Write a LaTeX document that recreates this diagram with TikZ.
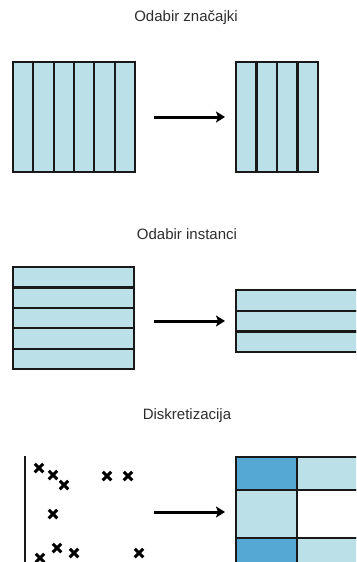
\documentclass[tikz,border=0pt]{standalone}
\usepackage{fontspec}
\setmainfont{Liberation Sans}
\usetikzlibrary{arrows.meta}
\usetikzlibrary{shapes.misc}
\definecolor{cellblue}{RGB}{188,224,232}
\definecolor{darkcell}{RGB}{86,168,212}
\definecolor{titlegray}{RGB}{45,45,45}
\definecolor{edgegray}{RGB}{25,25,25}
\tikzset{
  cellbox/.style={draw=edgegray,line width=2.2pt,fill=#1},
  cellbox/.default=cellblue,
  steptitle/.style={text=titlegray,font=\fontsize{15}{18}\selectfont,inner sep=0pt},
  maparrow/.style={line width=3pt,-{Stealth[length=9pt,width=11pt,inset=2pt]}},
  xmark/.style={cross out,draw=black,line width=3pt,minimum size=5.5pt,inner sep=0pt}
}
% column strips: x, y top, count, width, height
\newcommand{\drawcolumns}[5]{
  \begin{scope}[shift={(#1,#2)}]
  \foreach \i in {1,...,#3} {
    \draw[cellbox] ({(\i-1)*#4},0) rectangle ({\i*#4},#5);
  }
  \end{scope}
}
% row strips: x, y top, count, width, height
\newcommand{\drawrows}[5]{
  \begin{scope}[shift={(#1,#2)}]
  \foreach \i in {1,...,#3} {
    \draw[cellbox] (0,{(\i-1)*#5}) rectangle (#4,{\i*#5});
  }
  \end{scope}
}

\begin{document}
\begin{tikzpicture}[x=1pt,y=-1pt]
  \useasboundingbox (0,0) rectangle (356,562);
  \clip (0,0) rectangle (356,562);

  % feature selection
  \node[steptitle] (t1) at (186,18) {Odabir značajki};
  \drawcolumns{13}{62}{6}{20.33}{110}
  \drawcolumns{236}{62}{4}{20.5}{110}
  \coordinate (a1s) at (154,117);
  \coordinate (a1e) at (225,117);
  \draw[maparrow] (a1s) -- (a1e);

  % instance selection
  \node[steptitle] (t2) at (187,234) {Odabir instanci};
  \drawrows{13}{267}{5}{121}{20.4}
  \drawrows{236}{290}{3}{140}{20.7}
  \coordinate (a2s) at (154,321);
  \coordinate (a2e) at (225,321);
  \draw[maparrow] (a2s) -- (a2e);

  % discretization
  \node[steptitle] (t3) at (187,416) {Diskretizacija};
  \coordinate (axtop) at (25,456);
  \coordinate (axbot) at (25,570);
  \draw[edgegray,line width=2.2pt] (axtop) -- (axbot);
  \foreach \px/\py [count=\k] in {39/468,53/475,64/485,107/476,128/476,
                                 53/514,57/548,74/553,40/558,139/553}
    \node[xmark] (pt\k) at (\px,\py) {};
  \draw[cellbox=darkcell] (236,457) rectangle (297,490);
  \draw[cellbox] (297,457) rectangle (370,490);
  \draw[cellbox] (236,490) rectangle (297,538);
  \draw[cellbox=white] (297,490) rectangle (370,538);
  \draw[cellbox=darkcell] (236,538) rectangle (297,580);
  \draw[cellbox] (297,538) rectangle (370,580);
  \coordinate (a3s) at (154,512);
  \coordinate (a3e) at (225,512);
  \draw[maparrow] (a3s) -- (a3e);
\end{tikzpicture}
\end{document}
